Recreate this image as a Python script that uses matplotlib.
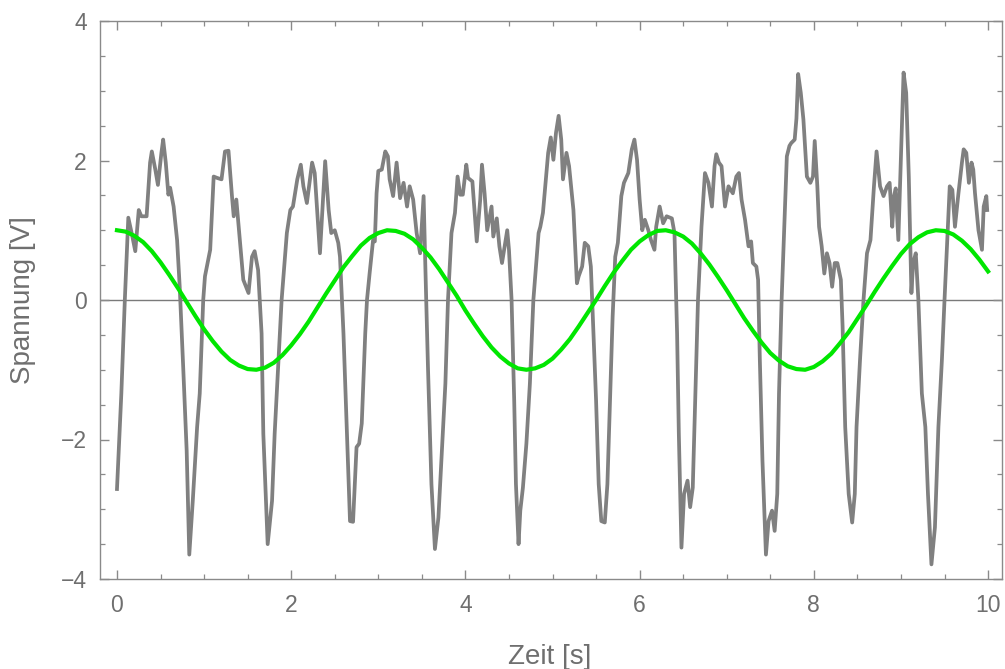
import numpy as np
import matplotlib
matplotlib.use("Agg")
import matplotlib.pyplot as plt
from matplotlib.ticker import MultipleLocator

plt.rcParams['font.family'] = ['Liberation Sans', 'DejaVu Sans']

zeit = [
    0.00, 0.05, 0.09, 0.13, 0.17, 0.21, 0.25, 0.28, 0.34, 0.38, 0.40, 0.44, 0.47, 0.51, 0.53,
    0.56, 0.59, 0.61, 0.65, 0.69, 0.72, 0.76, 0.80, 0.83, 0.87, 0.92, 0.95, 0.99, 1.01, 1.07,
    1.11, 1.15, 1.20, 1.24, 1.28, 1.32, 1.34, 1.37, 1.41, 1.45, 1.51, 1.55, 1.58, 1.62, 1.66,
    1.68, 1.73, 1.78, 1.81, 1.85, 1.89, 1.95, 1.99, 2.02, 2.07, 2.11, 2.14, 2.18, 2.24, 2.27,
    2.33, 2.39, 2.43, 2.46, 2.50, 2.54, 2.56, 2.60, 2.64, 2.675, 2.71, 2.75, 2.78, 2.81, 2.85,
    2.87, 2.90, 2.94, 2.96, 2.98, 3.00, 3.04, 3.08, 3.11, 3.13, 3.17, 3.21, 3.25, 3.29, 3.33,
    3.36, 3.40, 3.44, 3.48, 3.52, 3.54, 3.57, 3.61, 3.65, 3.69, 3.73, 3.77, 3.80, 3.84, 3.88,
    3.91, 3.94, 3.97, 4.01, 4.03, 4.08, 4.13, 4.17, 4.19, 4.22, 4.25, 4.30, 4.32, 4.36, 4.39,
    4.42, 4.45, 4.48, 4.50, 4.53, 4.56, 4.58, 4.61, 4.63, 4.66, 4.70, 4.74, 4.78, 4.84, 4.86,
    4.89, 4.95, 4.98, 5.01, 5.04, 5.07, 5.10, 5.12, 5.16, 5.19, 5.24, 5.28, 5.30, 5.34, 5.37,
    5.41, 5.44, 5.47, 5.50, 5.53, 5.56, 5.60, 5.63, 5.66, 5.69, 5.72, 5.75, 5.79, 5.82, 5.87,
    5.91, 5.94, 5.97, 6.00, 6.03, 6.06, 6.10, 6.13, 6.17, 6.19, 6.23, 6.27, 6.31, 6.37, 6.40,
    6.43, 6.45, 6.48, 6.51, 6.55, 6.58, 6.61, 6.64, 6.67, 6.71, 6.75, 6.79, 6.83, 6.86, 6.88,
    6.91, 6.94, 6.98, 7.02, 7.07, 7.11, 7.14, 7.17, 7.21, 7.25, 7.28, 7.30, 7.34, 7.36, 7.38,
    7.41, 7.45, 7.48, 7.52, 7.55, 7.58, 7.60, 7.63, 7.66, 7.69, 7.72, 7.74, 7.78, 7.80, 7.82,
    7.85, 7.88, 7.92, 7.96, 7.99, 8.01, 8.04, 8.06, 8.09, 8.12, 8.15, 8.18, 8.21, 8.24, 8.27,
    8.31, 8.33, 8.36, 8.40, 8.44, 8.47, 8.49, 8.53, 8.57, 8.61, 8.65, 8.69, 8.72, 8.76, 8.80,
    8.84, 8.87, 8.90, 8.92, 8.94, 8.97, 9.01, 9.03, 9.06, 9.09, 9.12, 9.14, 9.17, 9.20, 9.24,
    9.28, 9.31, 9.35, 9.39, 9.43, 9.47, 9.50, 9.53, 9.56, 9.59, 9.62, 9.66, 9.70, 9.72, 9.75,
    9.78, 9.81, 9.83, 9.85, 9.89, 9.93, 9.95, 9.98, 9.99,
]
spannung = [
    -2.71, -1.34, 0.00, 1.18, 0.95, 0.70, 1.29, 1.20, 1.20, 1.97, 2.13, 1.87, 1.65, 2.11, 2.30,
    1.97, 1.51, 1.61, 1.34, 0.86, 0.19, -0.96, -2.16, -3.65, -2.88, -1.82, -1.34, 0.00, 0.34, 0.72,
    1.77, 1.75, 1.73, 2.13, 2.14, 1.49, 1.20, 1.44, 0.86, 0.29, 0.10, 0.62, 0.70, 0.43, -0.48,
    -1.92, -3.50, -2.88, -1.92, -0.96, 0.00, 0.96, 1.29, 1.34, 1.73, 1.94, 1.63, 1.39, 1.97, 1.82,
    0.67, 1.99, 1.29, 0.96, 1.00, 0.82, 0.62, -0.48, -1.92, -3.17, -3.18, -2.11, -2.06, -1.77, -0.48,
    0.00, 0.38, 0.86, 0.84, 1.53, 1.85, 1.87, 2.13, 2.06, 1.73, 1.49, 1.97, 1.46, 1.68, 1.34,
    1.63, 1.44, 0.96, 0.67, 1.49, 0.48, -0.96, -2.64, -3.57, -3.12, -2.16, -1.20, 0.00, 0.96, 1.25,
    1.77, 1.51, 1.51, 1.94, 1.75, 1.70, 0.84, 1.44, 1.94, 1.53, 1.00, 1.34, 0.91, 1.17, 0.77,
    0.53, 0.77, 1.00, 0.72, 0.00, -1.44, -2.64, -3.50, -3.02, -2.69, -2.06, -1.20, 0.00, 0.96, 1.05,
    1.25, 2.11, 2.33, 2.01, 2.40, 2.64, 2.30, 1.73, 2.11, 1.92, 1.29, 0.24, 0.34, 0.48, 0.82,
    0.77, 0.48, -0.48, -1.44, -2.64, -3.17, -3.19, -2.64, -1.44, -0.24, 0.62, 0.82, 1.49, 1.68, 1.82,
    2.16, 2.30, 2.01, 1.44, 1.00, 1.15, 1.00, 0.86, 0.72, 1.05, 1.34, 1.10, 1.20, 1.17, 0.96,
    -0.48, -1.92, -3.55, -2.78, -2.59, -2.97, -2.69, -1.34, 0.00, 1.05, 1.82, 1.68, 1.34, 1.92, 2.09,
    1.97, 1.92, 1.34, 1.63, 1.53, 1.77, 1.82, 1.44, 1.15, 0.77, 0.84, 0.53, 0.48, 0.29, -0.86,
    -2.30, -3.65, -3.17, -3.02, -3.31, -2.78, -1.34, 0.00, 1.05, 2.06, 2.21, 2.25, 2.30, 2.60, 3.24,
    2.97, 2.59, 1.77, 1.68, 1.77, 2.28, 1.63, 1.05, 0.77, 0.38, 0.67, 0.53, 0.19, 0.53, 0.53,
    0.29, -0.38, -1.82, -2.78, -3.19, -2.78, -1.82, -0.86, 0.00, 0.67, 0.86, 1.63, 2.13, 1.63, 1.49,
    1.63, 1.68, 1.05, 1.49, 1.60, 0.86, 2.49, 3.26, 2.97, 1.77, 0.10, 0.53, 0.67, 0.00, -1.34,
    -1.82, -2.78, -3.79, -3.26, -1.82, -0.86, 0.00, 0.82, 1.63, 1.58, 1.05, 1.53, 1.97, 2.16, 2.11,
    1.68, 1.97, 1.87, 1.53, 1.00, 0.72, 1.34, 1.49, 1.29,
]

# reference curve (green), sampled every 0.1 s
ref_zeit = np.round(np.arange(0, 101) * 0.1, 1)
ref_spannung = [
    1.00, 0.98, 0.92, 0.83, 0.70, 0.54, 0.36, 0.17, -0.03, -0.23,
    -0.42, -0.59, -0.74, -0.86, -0.94, -0.99, -1.00, -0.97, -0.90, -0.79,
    -0.65, -0.49, -0.31, -0.11, 0.09, 0.28, 0.47, 0.63, 0.78, 0.89,
    0.96, 1.00, 0.99, 0.95, 0.87, 0.75, 0.61, 0.44, 0.25, 0.06,
    -0.15, -0.34, -0.52, -0.68, -0.81, -0.91, -0.98, -1.00, -0.98, -0.93,
    -0.84, -0.71, -0.56, -0.38, -0.19, 0.00, 0.20, 0.39, 0.56, 0.72,
    0.84, 0.93, 0.99, 1.00, 0.97, 0.91, 0.81, 0.67, 0.51, 0.33,
    0.14, -0.06, -0.26, -0.44, -0.61, -0.76, -0.87, -0.95, -0.99, -1.00,
    -0.96, -0.88, -0.77, -0.62, -0.46, -0.27, -0.08, 0.12, 0.31, 0.49,
    0.66, 0.80, 0.90, 0.97, 1.00, 0.99, 0.94, 0.85, 0.73, 0.58,
    0.41,
]

frame_col = '#8a8a8a'
text_col = '#6f6f6f'

W, H = 1005, 669
fig = plt.figure(figsize=(W / 100, H / 100), dpi=100)
# axes box in pixels: left 100, right 1002, top 21, bottom 579
ax = fig.add_axes([100 / W, (H - 579) / H, 902 / W, 558 / H])

ax.axhline(0, color='#7a7a7a', lw=1.0, zorder=1)
ax.plot(zeit, spannung, color='#808080', lw=2.7, solid_joinstyle='round', zorder=2)
ax.plot(ref_zeit, ref_spannung, color='#00e600', lw=3.0, zorder=3)

ax.set_xlim(-0.195, 10.16)
ax.set_ylim(-4, 4)
ax.xaxis.set_major_locator(MultipleLocator(2))
ax.xaxis.set_minor_locator(MultipleLocator(0.5))
ax.yaxis.set_major_locator(MultipleLocator(2))
ax.yaxis.set_minor_locator(MultipleLocator(0.5))

for s in ax.spines.values():
    s.set_color(frame_col)
    s.set_linewidth(1.0)

ax.tick_params(which='both', direction='in', top=True, right=True, color=frame_col,
               labelcolor=text_col, labelsize=16.5)
ax.tick_params(which='major', length=6.5, width=1.0)
ax.tick_params(which='minor', length=3.5, width=0.9)
ax.tick_params(axis='x', which='major', pad=11)
ax.tick_params(axis='y', which='major', pad=9.5)

ax.set_xlabel('Zeit [s]', fontsize=20, color=text_col, va='baseline')
ax.xaxis.set_label_coords(0.498, -0.152)
ax.set_ylabel('Spannung [V]', fontsize=20, color=text_col, va='center')
ax.yaxis.set_label_coords(-0.0854, 0.5)

fig.savefig('out.png', dpi=100)
